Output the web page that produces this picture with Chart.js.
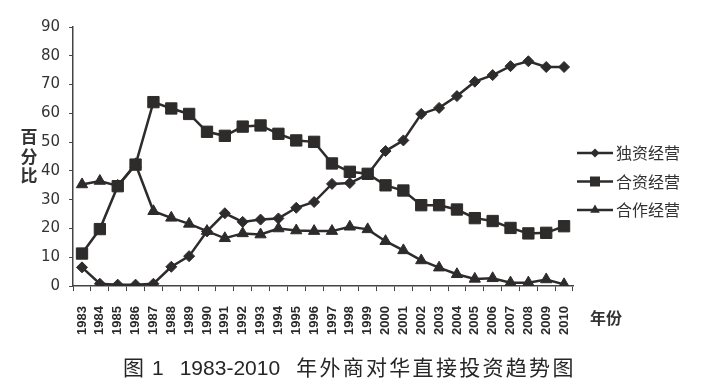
<!DOCTYPE html>
<html>
<head>
<meta charset="utf-8">
<script src="https://cdn.jsdelivr.net/npm/chart.js@4"></script>
<style>
  body { margin: 0; background: #fff; }
  #wrap { position: relative; width: 707px; height: 390px; }
  #caption {
    position: absolute; left: 123px; top: 351px;
    font: 21px "Noto Sans CJK SC", sans-serif; color: #262626;
    white-space: nowrap;
  }
  #caption .num { font-family: "Liberation Sans", sans-serif; }
  #caption .cjk { letter-spacing: 2.3px; }
</style>
</head>
<body>
<div id="wrap">
  <canvas id="chart" width="707" height="390"></canvas>
  <div id="caption"><span>图</span><span class="num" style="margin-left:8px">1</span><span class="num" style="margin-left:16px">1983-2010</span><span class="cjk" style="margin-left:16px">年外商对华直接投资趋势图</span></div>
</div>
<script>
const years = ["1983", "1984", "1985", "1986", "1987", "1988", "1989", "1990", "1991", "1992",
  "1993", "1994", "1995", "1996", "1997", "1998", "1999", "2000", "2001", "2002",
  "2003", "2004", "2005", "2006", "2007", "2008", "2009", "2010"];

// 独资经营
const duzi = [6.5, 0.8, 0.5, 0.5, 0.8, 6.7, 10.4, 19.0, 25.3, 22.3, 23.1, 23.5, 27.2, 29.2,
  35.5, 35.8, 38.8, 46.9, 50.6, 59.8, 61.9, 66.0, 71.0, 73.3, 76.4, 78.1, 76.1, 76.1];
// 合资经营
const hezi = [11.3, 19.8, 34.7, 42.2, 63.9, 61.7, 59.8, 53.6, 52.2, 55.4, 55.8, 52.9, 50.6, 50.1,
  42.6, 39.7, 39.0, 35.0, 33.2, 28.1, 28.1, 26.6, 23.6, 22.6, 20.2, 18.3, 18.5, 20.8];
// 合作经营
const hezuo = [35.3, 36.5, 34.8, 42.3, 26.0, 23.7, 21.6, 19.1, 16.6, 18.3, 17.9, 20.0, 19.3, 19.1,
  19.1, 20.6, 19.7, 15.6, 12.4, 8.9, 6.4, 4.1, 2.5, 2.7, 1.2, 1.2, 2.3, 0.6];

const seriesNames = ["独资经营", "合资经营", "合作经营"];
const yTicks = [0, 10, 20, 30, 40, 50, 60, 70, 80, 90];

const ink = "#2e2b2b";
const textColor = "#333";

function marker(ctx, style, x, y, r) {
  ctx.beginPath();
  if (style === "rectRot") {
    ctx.moveTo(x - r, y); ctx.lineTo(x, y - r); ctx.lineTo(x + r, y); ctx.lineTo(x, y + r);
  } else if (style === "rect") {
    ctx.rect(x - r, y - r, 2 * r, 2 * r);
  } else {
    ctx.moveTo(x, y - r); ctx.lineTo(x + r * 0.87, y + r * 0.5); ctx.lineTo(x - r * 0.87, y + r * 0.5);
  }
  ctx.closePath();
  ctx.fill();
}

// legend, y title and x title
const extras = {
  id: "extras",
  afterDraw(chart) {
    const ctx = chart.ctx;
    ctx.save();
    ctx.fillStyle = textColor;
    ctx.font = "bold 17px 'Noto Sans CJK SC'";
    ctx.textAlign = "center";
    ctx.textBaseline = "middle";
    ["百", "分", "比"].forEach((c, i) => ctx.fillText(c, 29, 137 + i * 19.5));
    ctx.font = "bold 16px 'Noto Sans CJK SC'";
    ctx.fillText("年份", 606, 318);

    const styles = ["rectRot", "rect", "triangle"];
    const sizes = [4.5, 5, 5.5];
    ctx.font = "16px 'Noto Sans CJK SC'";
    ctx.textAlign = "left";
    seriesNames.forEach((name, i) => {
      const y = 153 + i * 28.5;
      ctx.strokeStyle = ink;
      ctx.lineWidth = 2.5;
      ctx.beginPath();
      ctx.moveTo(577, y); ctx.lineTo(613, y);
      ctx.stroke();
      ctx.fillStyle = ink;
      marker(ctx, styles[i], 595, y, sizes[i]);
      ctx.fillStyle = textColor;
      ctx.fillText(name, 616, y);
    });
    ctx.restore();
  }
};

new Chart(document.getElementById("chart"), {
  type: "line",
  data: {
    labels: years,
    datasets: [
      { label: seriesNames[0], data: duzi, pointStyle: "rectRot", pointRadius: 5.5 },
      { label: seriesNames[1], data: hezi, pointStyle: "rect", pointRadius: 8 },
      { label: seriesNames[2], data: hezuo, pointStyle: "triangle", pointRadius: 6.5 },
    ].map((d) => ({
      ...d,
      borderColor: ink,
      backgroundColor: ink,
      pointBackgroundColor: ink,
      pointBorderColor: ink,
      pointBorderWidth: 1,
      borderWidth: 2.5,
      tension: 0,
    })),
  },
  plugins: [extras],
  options: {
    responsive: false,
    animation: false,
    layout: { padding: { left: 32, right: 134, top: 27, bottom: 40 } },
    plugins: { legend: { display: false }, tooltip: { enabled: false } },
    scales: {
      x: {
        offset: true,
        grid: { offset: true, drawOnChartArea: false, tickLength: 5, color: "#444" },
        border: { color: "#444", width: 1.5 },
        ticks: {
          minRotation: 90, maxRotation: 90, padding: 15, autoSkip: false,
          color: "#2a2a2a", font: { family: "Liberation Sans", size: 13, weight: "bold" },
        },
      },
      y: {
        min: 0, max: 90,
        afterBuildTicks: (axis) => { axis.ticks = yTicks.map((v) => ({ value: v })); },
        grid: { drawOnChartArea: false, tickLength: 4, color: "#444" },
        border: { color: "#444", width: 1.5 },
        ticks: { padding: 9, color: textColor, font: { family: "DejaVu Sans", size: 15 } },
      },
    },
  },
});
</script>
</body>
</html>
